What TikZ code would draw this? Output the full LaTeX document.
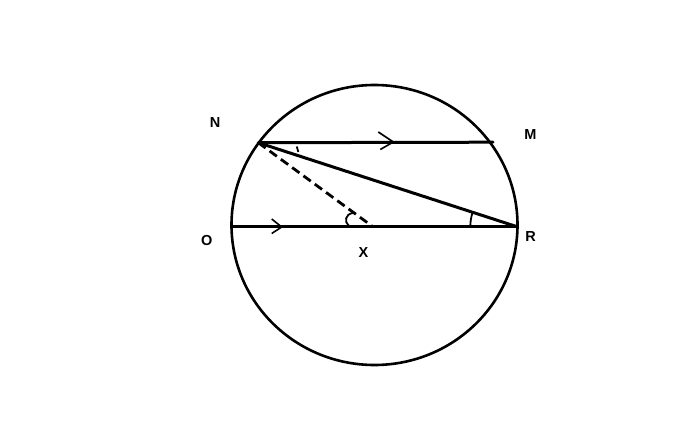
\documentclass[tikz,border=0pt]{standalone}
\usepackage{fontspec}
\setmainfont{Liberation Sans}
\begin{document}
\begin{tikzpicture}[x=1pt,y=-1pt,
  lbl/.style={font=\bfseries\fontsize{14.5}{16}\selectfont, inner sep=0pt},
  thick line/.style={line width=3pt, line cap=round},
  circ/.style={line width=2.6pt},
  dash line/.style={line width=2.8pt, dash pattern=on 9pt off 5pt},
  chev/.style={line width=1.6pt},
  anglemark/.style={line width=1.8pt}]
\useasboundingbox (0,0) rectangle (679,446);
\fill[white] (0,0) rectangle (679,446);
% circle
\coordinate (C) at (374.5,225);
\draw[circ] (C) ellipse [x radius=143, y radius=140];
% points
\coordinate (Np) at (258.3,142.7);
\coordinate (Mp) at (493,142.2);
\coordinate (Op) at (232,226.8);
\coordinate (Rp) at (517.3,226.8);
\coordinate (Xp) at (373,226.8);
% lines
\draw[thick line] (Np) -- (Mp);
\draw[thick line] (Np) -- (Rp);
\draw[thick line] (Op) -- (Rp);
\draw[dash line] (Np) -- (Xp);
% chevrons
\draw[chev, shift={(393.3,142)}] (-15,-10) -- (0,0) -- (-13,7.5);
\draw[chev, shift={(281.7,227)}] (-10,-8) -- (0,0) -- (-10,6.5);
% angle marks
\draw[anglemark] (Rp) ++(180:47) arc[start angle=180, end angle=198, radius=47];
\draw[anglemark] (296.8,146.5) -- (298.3,152);
\draw[anglemark] (353,213) .. controls (345,214) and (344,222) .. (349,226) -- (356,226.5);
% labels
\node[lbl] (N) at (215,122.5) {N};
\node[lbl] (M) at (530.5,135) {M};
\node[lbl] (O) at (206.7,240.5) {O};
\node[lbl] (R) at (530.5,237) {R};
\node[lbl] (X) at (363.5,253) {X};
\end{tikzpicture}
\end{document}
